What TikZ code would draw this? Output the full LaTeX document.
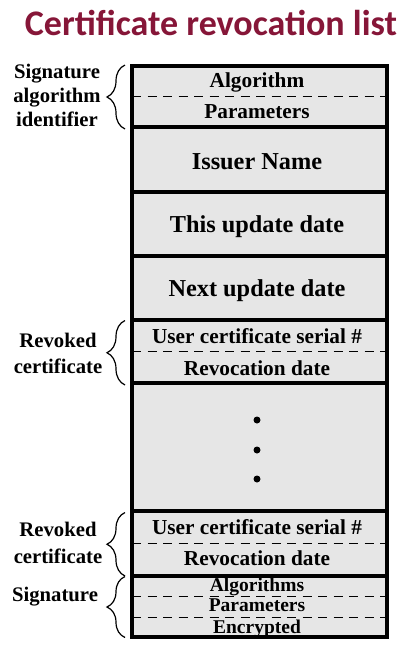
\documentclass[tikz,border=0pt]{standalone}
\usepackage{fontspec}
\setmainfont{Liberation Serif}
\newfontfamily\titlefont{Carlito}
\usetikzlibrary{decorations.pathreplacing,calc}
\definecolor{titlered}{RGB}{134,22,56}
\definecolor{rowgray}{RGB}{230,230,230}
\begin{document}
\begin{tikzpicture}[x=1pt,y=-1pt,
 rowbox/.style={draw=black, fill=rowgray, line width=4pt, rectangle, inner sep=0pt, outer sep=0pt, minimum width=255pt, anchor=north west},
 bigtxt/.style={anchor=base, inner sep=0pt, font=\bfseries\fontsize{24.3}{28}\selectfont},
 midtxt/.style={anchor=base, inner sep=0pt, font=\bfseries\fontsize{21.3}{25}\selectfont},
 smalltxt/.style={anchor=base, inner sep=0pt, font=\bfseries\fontsize{19.5}{22}\selectfont},
 lbl/.style={anchor=base, inner sep=0pt, align=center, font=\bfseries\fontsize{20.7}{24}\selectfont},
 lbltwo/.style={lbl, font=\bfseries\fontsize{20.7}{26.5}\selectfont},
 divline/.style={line width=1pt, dash pattern=on 9pt off 6.5pt},
 brc/.style={decorate, decoration={brace, amplitude=18pt}, line width=1.2pt},
 dotmark/.style={circle, fill=black, inner sep=0pt, minimum size=7pt}
]
\useasboundingbox (0,0) rectangle (408,649);

\node[anchor=base, inner sep=0pt, font=\titlefont\bfseries\fontsize{36}{40}\selectfont, text=titlered] (title) at (211,35) {Certificate revocation list};

\node[rowbox, minimum height=61.5pt] (sigalg) at (132,65.5) {};
\node[rowbox, minimum height=65pt] (issuer) at (132,127) {};
\node[rowbox, minimum height=64pt] (thisupd) at (132,192) {};
\node[rowbox, minimum height=64pt] (nextupd) at (132,256) {};
\node[rowbox, minimum height=63pt] (rev1) at (132,320) {};
\node[rowbox, minimum height=128pt] (dots) at (132,383) {};
\node[rowbox, minimum height=65pt] (rev2) at (132,511) {};
\node[rowbox, minimum height=60.5pt] (sig) at (132,576) {};

\draw[divline] ($(sigalg.north west)!0.5!(sigalg.south west)$) -- ($(sigalg.north east)!0.5!(sigalg.south east)$);
\draw[divline] ($(rev1.north west)!0.5!(rev1.south west)$) -- ($(rev1.north east)!0.5!(rev1.south east)$);
\draw[divline] ($(rev2.north west)!0.5!(rev2.south west)$) -- ($(rev2.north east)!0.5!(rev2.south east)$);
\draw[divline] ($(sig.north west)!0.34!(sig.south west)$) -- ($(sig.north east)!0.34!(sig.south east)$);
\draw[divline] ($(sig.north west)!0.68!(sig.south west)$) -- ($(sig.north east)!0.68!(sig.south east)$);

\node[midtxt] (talg) at (257,87) {Algorithm};
\node[midtxt] (tpar) at (257,118) {Parameters};
\node[bigtxt] (tiss) at (257,169) {Issuer Name};
\node[bigtxt] (tthis) at (257,232) {This update date};
\node[bigtxt] (tnext) at (257,296) {Next update date};
\node[midtxt] (tser1) at (257,343) {User certificate serial \#};
\node[midtxt] (trev1) at (257,375) {Revocation date};
\node[midtxt] (tser2) at (257,534) {User certificate serial \#};
\node[midtxt] (trev2) at (257,565.5) {Revocation date};
\node[smalltxt] (salg) at (257,591.5) {Algorithms};
\node[smalltxt] (spar) at (257,611.5) {Parameters};
\node[smalltxt] (senc) at (257,633) {Encrypted};

\node[dotmark] (d1) at (257,420) {};
\node[dotmark] (d2) at (257,450) {};
\node[dotmark] (d3) at (257,479) {};

\coordinate (b1s) at (125,129); \coordinate (b1e) at (125,65);
\coordinate (b2s) at (125,385); \coordinate (b2e) at (125,320.5);
\coordinate (b3s) at (125,576); \coordinate (b3e) at (125,512.5);
\coordinate (b4s) at (125,637.5); \coordinate (b4e) at (125,576.5);
\draw[brc] (b1s) -- (b1e);
\draw[brc] (b2s) -- (b2e);
\draw[brc] (b3s) -- (b3e);
\draw[brc] (b4s) -- (b4e);

\node[lbl] (lsig) at (57,126) {Signature\\algorithm\\identifier};
\node[lbltwo] (lrev1) at (58,373.5) {Revoked\\certificate};
\node[lbltwo] (lrev2) at (58,563) {Revoked\\certificate};
\node[lbl] (lsgn) at (55,601.5) {Signature};
\end{tikzpicture}
\end{document}
